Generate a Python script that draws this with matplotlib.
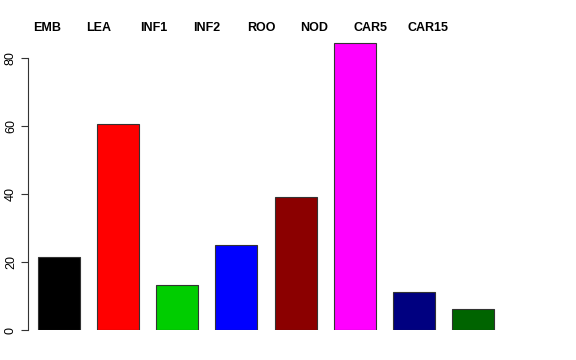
import matplotlib
matplotlib.use("Agg")
import matplotlib.pyplot as plt
import numpy as np

tissues = ["EMB", "LEA", "INF1", "INF2", "ROO", "NOD", "CAR5", "CAR15"]
values = [21.5, 60.6, 13.3, 25.0, 39.2, 84.4, 11.3, 6.2]
colors = ["#000000", "#FF0000", "#00CD00", "#0000FF", "#8B0000", "#FF00FF", "#000080", "#006400"]
yticks = [0, 20, 40, 60, 80]

plt.rcParams["font.family"] = ["Liberation Sans", "DejaVu Sans"]

fig = plt.figure(figsize=(5.76, 3.6), dpi=100)
ax = fig.add_axes([28 / 576, 30 / 360, 492 / 576, 289 / 360])

x = np.arange(len(tissues))
ax.bar(x, values, width=0.71, color=colors, edgecolor="#333333", linewidth=0.8)

ax.set_xlim(-0.524, 7.795)
ax.set_ylim(0, 85)

for s in ["top", "right", "bottom"]:
    ax.spines[s].set_visible(False)
ax.spines["left"].set_bounds(0, 80)
ax.spines["left"].set_color("#333333")
ax.set_xticks([])
ax.set_yticks(yticks)
ax.set_yticklabels([str(v) for v in yticks], rotation=90, va="center", fontsize=9)
ax.tick_params(axis="y", length=5, width=0.8, color="#333333", pad=3)

# labels along the top, spaced a bit tighter than the bars
for i, name in enumerate(tissues):
    ax.text(-0.44 + 0.904 * i, 88.8, name, ha="left", va="center",
            fontsize=9, fontweight="bold", clip_on=False)

fig.savefig("out.png", dpi=100)
